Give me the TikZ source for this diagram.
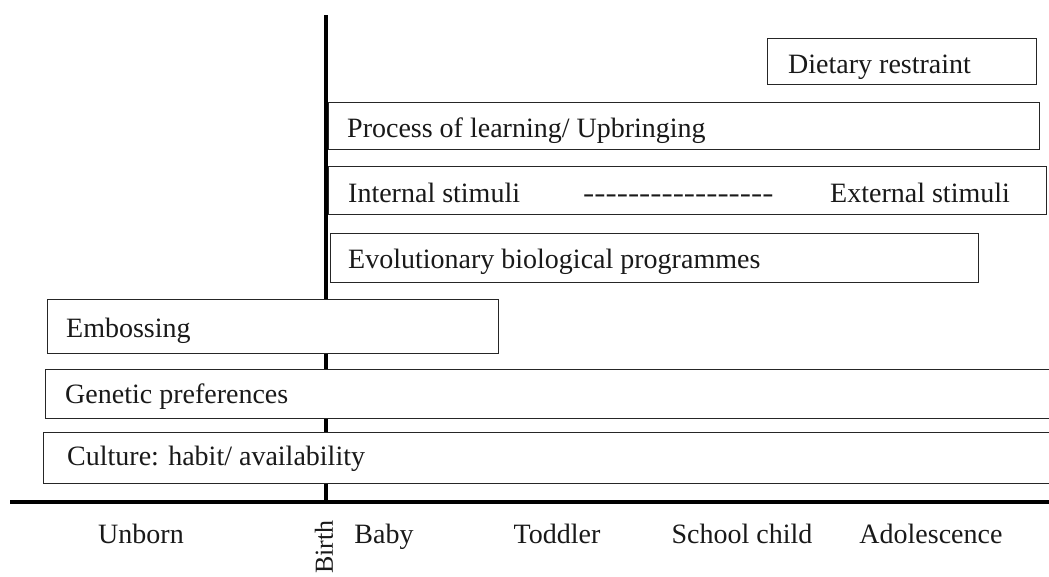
\documentclass[tikz,border=0pt]{standalone}
\usepackage{fontspec}
\setmainfont{Liberation Serif}[Ligatures=TeXOff]
\begin{document}
\begin{tikzpicture}[x=1pt,y=-1pt,
  box/.style={draw=black!85, fill=white, line width=1.4pt, anchor=north west, inner sep=0pt},
  lbl/.style={anchor=base west, inner sep=0pt, font=\fontsize{28}{30}\selectfont, text=black!90},
  tick/.style={anchor=base, inner sep=0pt, font=\fontsize{28}{30}\selectfont, text=black!90},
  axisline/.style={line width=4pt, black}]
\useasboundingbox (0,0) rectangle (1049,576);
% axes
\coordinate (vtop) at (325.5,15);
\coordinate (birth) at (325.5,502);
\coordinate (aleft) at (10,502);
\coordinate (aright) at (1049,502);
\draw[axisline] (vtop) -- (birth);
\draw[axisline] (aleft) -- (aright);
% boxes
\node[box, minimum width=269pt, minimum height=46pt] (diet) at (767,38) {};
\node[box, minimum width=711pt, minimum height=47pt] (proc) at (328,102) {};
\node[box, minimum width=718pt, minimum height=48pt] (stim) at (328,166) {};
\node[box, minimum width=648pt, minimum height=49pt] (evol) at (330,233) {};
\node[box, minimum width=451pt, minimum height=54pt] (emb) at (47,299) {};
\node[box, minimum width=1020pt, minimum height=49pt] (gen) at (45,369) {};
\node[box, minimum width=1025pt, minimum height=51pt] (cult) at (43,432) {};
% labels
\node[lbl] (tdiet) at (788,73) {Dietary restraint};
\node[lbl] (tproc) at (347,137) {Process of learning/ Upbringing};
\node[lbl] (tint) at (348,202) {Internal stimuli};
\node[lbl, xscale=1.2, transform shape] (tdash) at (583,202) {-----------------};
\node[lbl] (text) at (830,202) {External stimuli};
\node[lbl] (tevol) at (348,268) {Evolutionary biological programmes};
\node[lbl] (temb) at (66,337) {Embossing};
\node[lbl] (tgen) at (65,403) {Genetic preferences};
\node[lbl] (tcult) at (67,465) {Culture: habit/ availability};
% axis labels
\node[tick] (unborn) at (141,543) {Unborn};
\node[anchor=east, rotate=90, inner sep=0pt, font=\fontsize{26}{28}\selectfont, text=black!90] (tbirth) at (324,520) {Birth};
\node[tick] (baby) at (384,543) {Baby};
\node[tick] (toddler) at (557,543) {Toddler};
\node[tick] (school) at (742,543) {School child};
\node[tick] (adol) at (931,543) {Adolescence};
\end{tikzpicture}
\end{document}
